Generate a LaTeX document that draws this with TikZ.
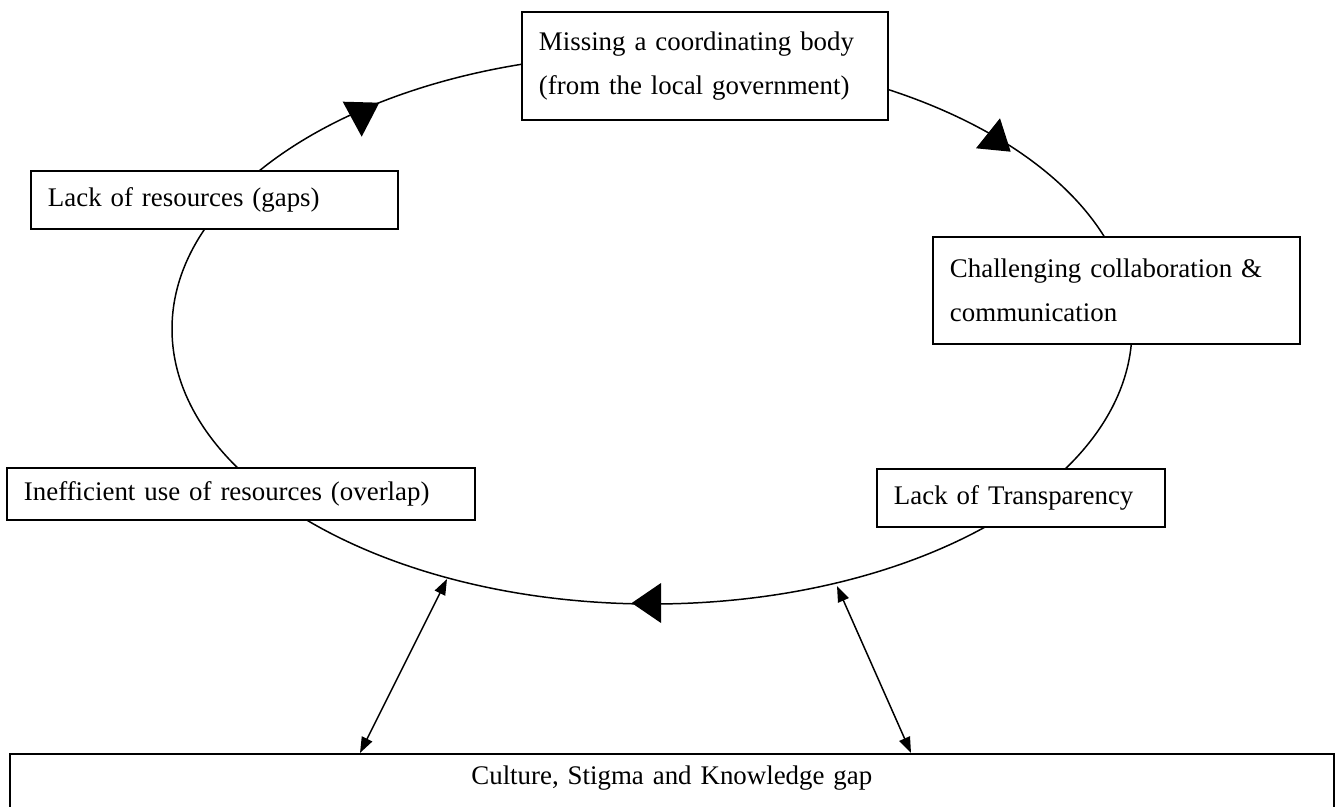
\documentclass[tikz,border=0pt]{standalone}
\usepackage{fontspec}
\setmainfont{Liberation Serif}
\usetikzlibrary{arrows.meta,positioning}

\begin{document}
\begin{tikzpicture}[x=0.02cm, y=-0.02cm,
    box/.style={draw, line width=1.1pt, fill=white, anchor=north west, align=left,
        inner xsep=0.34cm, inner ysep=0pt, font=\fontsize{15.3}{25}\selectfont},
    loopline/.style={line width=0.85pt},
    dbl/.style={line width=0.85pt, {Triangle[length=9pt,width=6.5pt]}-{Triangle[length=9pt,width=6.5pt]}}]
% Frame (bottom box runs past the lower edge)
\useasboundingbox (0,0) rectangle (1336,807);
\clip (0,0) rectangle (1336,807);

% The cycle
\draw[loopline] (652,329) ellipse [x radius=480, y radius=275];

% Direction marks on the cycle
\fill (342.7,101.7) -- (379.3,102.7) -- (361.7,136.7) -- cycle;
\fill (1000,118.3) -- (976,148.3) -- (1010.7,151.7) -- cycle;
\fill (631.7,603) -- (661,583) -- (661,623) -- cycle;

% Barriers around the cycle
\node[box, text width=6.64cm, minimum height=2.16cm] (coord) at (521,11)
    {Missing a coordinating body\\(from the local government)};
\node[box, text width=6.66cm, minimum height=2.14cm] (collab) at (932,236)
    {Challenging collaboration \&\\communication};
\node[box, text width=5.08cm, minimum height=1.16cm] (transp) at (876,468)
    {Lack of Transparency};
\node[box, text width=8.68cm, minimum height=1.04cm] (overlap) at (6,467)
    {Inefficient use of resources (overlap)};
\node[box, text width=6.66cm, minimum height=1.16cm] (gaps) at (30,170)
    {Lack of resources (gaps)};

% Underlying factor
\node[box, align=center, text width=25.8cm, text height=11pt, text depth=60pt,
    inner ysep=6.5pt] (culture) at (9,753) {Culture, Stigma and Knowledge gap};

% Links between cycle and underlying factor
\coordinate (loopL) at (447,579);
\coordinate (loopR) at (837,586);
\coordinate (footL) at (360,753);
\coordinate (footR) at (911,753);
\draw[dbl] (loopL) -- (footL);
\draw[dbl] (loopR) -- (footR);
\end{tikzpicture}
\end{document}
